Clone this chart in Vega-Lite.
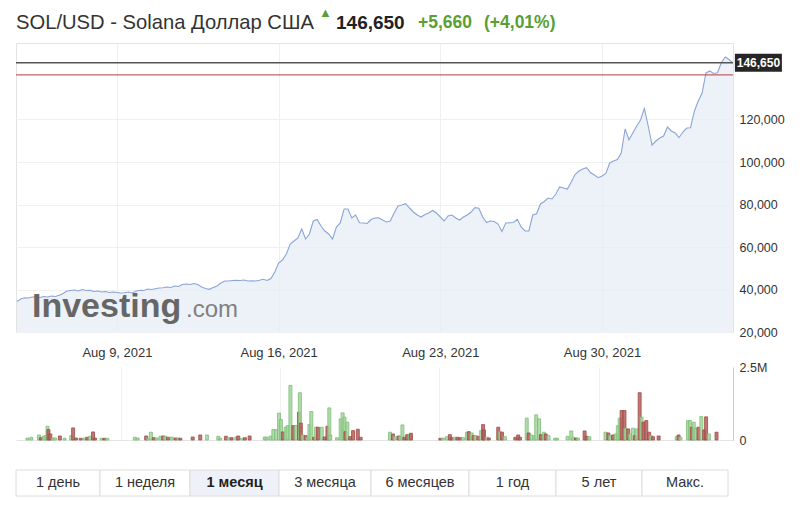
{
  "$schema": "https://vega.github.io/schema/vega-lite/v6.json",
  "padding": {"left": 14, "top": 7, "right": 0, "bottom": 0},
  "background": "white",
  "config": {
    "font": "Liberation Sans",
    "view": {"stroke": null},
    "axis": {"labelFont": "Liberation Sans", "labelFlush": false, "labelOverlap": false}
  },
  "bounds": "flush",
  "spacing": 5,
  "vconcat": [
    {
      "width": 717,
      "height": 30,
      "layer": [
        {
          "data": {"values": [{"k": 0, "text": "SOL/USD - Solana Доллар США"}]},
          "mark": {"type": "text", "align": "left", "fontSize": 20.2, "color": "#333333"},
          "encoding": {
            "x": {"field": "k", "type": "quantitative", "scale": {"domain": [0, 1, 2, 3, 4], "range": [0, 303, 320, 402, 468], "zero": false, "nice": false}, "axis": null},
            "text": {"field": "text"}
          }
        },
        {
          "data": {"values": [{"k": 1, "text": "▲"}]},
          "mark": {"type": "text", "align": "left", "fontSize": 13, "dy": -10, "color": "#5a9f35"},
          "encoding": {"x": {"field": "k", "type": "quantitative"}, "text": {"field": "text"}}
        },
        {
          "data": {"values": [{"k": 2, "text": "146,650"}]},
          "mark": {"type": "text", "align": "left", "fontSize": 19, "fontWeight": "bold", "color": "#222222"},
          "encoding": {"x": {"field": "k", "type": "quantitative"}, "text": {"field": "text"}}
        },
        {
          "data": {"values": [{"k": 3, "text": "+5,660"}, {"k": 4, "text": "(+4,01%)"}]},
          "mark": {"type": "text", "align": "left", "fontSize": 17.5, "fontWeight": "bold", "color": "#5a9f35"},
          "encoding": {"x": {"field": "k", "type": "quantitative"}, "text": {"field": "text"}}
        }
      ]
    },
    {
      "bounds": "flush",
      "spacing": 35,
      "vconcat": [
        {
          "width": 717,
          "height": 289,
          "view": {"stroke": "#e3e3e3"},
          "layer": [
            {
              "data": {"values": [
                {"t":"2021-08-04T16:00","p":34350},{"t":"2021-08-04T20:00","p":35530},
                {"t":"2021-08-05T00:00","p":36140},{"t":"2021-08-05T04:00","p":36000},{"t":"2021-08-05T08:00","p":36470},{"t":"2021-08-05T12:00","p":36610},{"t":"2021-08-05T16:00","p":36240},{"t":"2021-08-05T20:00","p":36710},
                {"t":"2021-08-06T00:00","p":36470},{"t":"2021-08-06T04:00","p":36940},{"t":"2021-08-06T08:00","p":36710},{"t":"2021-08-06T12:00","p":37270},{"t":"2021-08-06T16:00","p":38120},{"t":"2021-08-06T20:00","p":39290},
                {"t":"2021-08-07T00:00","p":39530},{"t":"2021-08-07T04:00","p":39770},{"t":"2021-08-07T08:00","p":39290},{"t":"2021-08-07T12:00","p":40000},{"t":"2021-08-07T16:00","p":39530},{"t":"2021-08-07T20:00","p":39620},
                {"t":"2021-08-08T00:00","p":39060},{"t":"2021-08-08T04:00","p":39290},{"t":"2021-08-08T08:00","p":38820},{"t":"2021-08-08T12:00","p":39060},{"t":"2021-08-08T16:00","p":38590},{"t":"2021-08-08T20:00","p":38820},
                {"t":"2021-08-09T00:00","p":38590},{"t":"2021-08-09T04:00","p":38350},{"t":"2021-08-09T08:00","p":38490},{"t":"2021-08-09T12:00","p":38820},{"t":"2021-08-09T16:00","p":38350},{"t":"2021-08-09T20:00","p":39290},
                {"t":"2021-08-10T00:00","p":39620},{"t":"2021-08-10T04:00","p":39530},{"t":"2021-08-10T08:00","p":40240},{"t":"2021-08-10T12:00","p":40000},{"t":"2021-08-10T16:00","p":40380},{"t":"2021-08-10T20:00","p":40710},
                {"t":"2021-08-11T00:00","p":40850},{"t":"2021-08-11T04:00","p":41180},{"t":"2021-08-11T08:00","p":40940},{"t":"2021-08-11T12:00","p":41650},{"t":"2021-08-11T16:00","p":41410},{"t":"2021-08-11T20:00","p":42350},
                {"t":"2021-08-12T00:00","p":42590},{"t":"2021-08-12T04:00","p":42350},{"t":"2021-08-12T08:00","p":42820},{"t":"2021-08-12T12:00","p":42350},{"t":"2021-08-12T16:00","p":41180},{"t":"2021-08-12T20:00","p":40470},
                {"t":"2021-08-13T00:00","p":40090},{"t":"2021-08-13T04:00","p":40940},{"t":"2021-08-13T08:00","p":41650},{"t":"2021-08-13T12:00","p":43060},{"t":"2021-08-13T16:00","p":44000},{"t":"2021-08-13T20:00","p":44000},
                {"t":"2021-08-14T00:00","p":44240},{"t":"2021-08-14T04:00","p":44330},{"t":"2021-08-14T08:00","p":44240},{"t":"2021-08-14T12:00","p":44470},{"t":"2021-08-14T16:00","p":44000},{"t":"2021-08-14T20:00","p":44100},
                {"t":"2021-08-15T00:00","p":44000},{"t":"2021-08-15T04:00","p":44330},{"t":"2021-08-15T08:00","p":44800},{"t":"2021-08-15T12:00","p":44240},{"t":"2021-08-15T16:00","p":45180},{"t":"2021-08-15T20:00","p":48240},
                {"t":"2021-08-16T00:00","p":52470},{"t":"2021-08-16T04:00","p":53880},{"t":"2021-08-16T08:00","p":56710},{"t":"2021-08-16T12:00","p":61410},{"t":"2021-08-16T16:00","p":62820},{"t":"2021-08-16T20:00","p":64240},
                {"t":"2021-08-17T00:00","p":68470},{"t":"2021-08-17T04:00","p":63770},{"t":"2021-08-17T08:00","p":66120},{"t":"2021-08-17T12:00","p":72240},{"t":"2021-08-17T16:00","p":72940},{"t":"2021-08-17T20:00","p":69880},
                {"t":"2021-08-18T00:00","p":67530},{"t":"2021-08-18T04:00","p":66120},{"t":"2021-08-18T08:00","p":63770},{"t":"2021-08-18T12:00","p":69410},{"t":"2021-08-18T16:00","p":71300},{"t":"2021-08-18T20:00","p":77880},
                {"t":"2021-08-19T00:00","p":77880},{"t":"2021-08-19T04:00","p":73650},{"t":"2021-08-19T08:00","p":75060},{"t":"2021-08-19T12:00","p":71440},{"t":"2021-08-19T16:00","p":71300},{"t":"2021-08-19T20:00","p":71060},
                {"t":"2021-08-20T00:00","p":72940},{"t":"2021-08-20T04:00","p":73650},{"t":"2021-08-20T08:00","p":73790},{"t":"2021-08-20T12:00","p":72710},{"t":"2021-08-20T16:00","p":71770},{"t":"2021-08-20T20:00","p":72240},
                {"t":"2021-08-21T00:00","p":76000},{"t":"2021-08-21T04:00","p":79300},{"t":"2021-08-21T08:00","p":79770},{"t":"2021-08-21T12:00","p":80380},{"t":"2021-08-21T16:00","p":78350},{"t":"2021-08-21T20:00","p":76470},
                {"t":"2021-08-22T00:00","p":75060},{"t":"2021-08-22T04:00","p":74120},{"t":"2021-08-22T08:00","p":75300},{"t":"2021-08-22T12:00","p":76000},{"t":"2021-08-22T16:00","p":77180},{"t":"2021-08-22T20:00","p":76000},
                {"t":"2021-08-23T00:00","p":74120},{"t":"2021-08-23T04:00","p":72240},{"t":"2021-08-23T08:00","p":74590},{"t":"2021-08-23T12:00","p":75060},{"t":"2021-08-23T16:00","p":73650},{"t":"2021-08-23T20:00","p":72710},
                {"t":"2021-08-24T00:00","p":74120},{"t":"2021-08-24T04:00","p":75060},{"t":"2021-08-24T08:00","p":76470},{"t":"2021-08-24T12:00","p":78500},{"t":"2021-08-24T16:00","p":78210},{"t":"2021-08-24T20:00","p":74120},
                {"t":"2021-08-25T00:00","p":71530},{"t":"2021-08-25T04:00","p":72240},{"t":"2021-08-25T08:00","p":72000},{"t":"2021-08-25T12:00","p":70820},{"t":"2021-08-25T16:00","p":67300},{"t":"2021-08-25T20:00","p":71300},
                {"t":"2021-08-26T00:00","p":71440},{"t":"2021-08-26T04:00","p":71530},{"t":"2021-08-26T08:00","p":73040},{"t":"2021-08-26T12:00","p":69410},{"t":"2021-08-26T16:00","p":67530},{"t":"2021-08-26T20:00","p":67530},
                {"t":"2021-08-27T00:00","p":75060},{"t":"2021-08-27T04:00","p":75670},{"t":"2021-08-27T08:00","p":80240},{"t":"2021-08-27T12:00","p":81410},{"t":"2021-08-27T16:00","p":83060},{"t":"2021-08-27T20:00","p":82590},
                {"t":"2021-08-28T00:00","p":84940},{"t":"2021-08-28T04:00","p":88240},{"t":"2021-08-28T08:00","p":87770},{"t":"2021-08-28T12:00","p":87300},{"t":"2021-08-28T16:00","p":90590},{"t":"2021-08-28T20:00","p":94120},
                {"t":"2021-08-29T00:00","p":95770},{"t":"2021-08-29T04:00","p":96710},{"t":"2021-08-29T08:00","p":97320},{"t":"2021-08-29T12:00","p":95060},{"t":"2021-08-29T16:00","p":93880},{"t":"2021-08-29T20:00","p":92610},
                {"t":"2021-08-30T00:00","p":93410},{"t":"2021-08-30T04:00","p":94590},{"t":"2021-08-30T08:00","p":99530},{"t":"2021-08-30T12:00","p":100470},{"t":"2021-08-30T16:00","p":101180},{"t":"2021-08-30T20:00","p":104240},
                {"t":"2021-08-31T00:00","p":115530},{"t":"2021-08-31T04:00","p":110350},{"t":"2021-08-31T08:00","p":113650},{"t":"2021-08-31T12:00","p":116940},{"t":"2021-08-31T16:00","p":119770},{"t":"2021-08-31T20:00","p":125180},
                {"t":"2021-09-01T00:00","p":116940},{"t":"2021-09-01T04:00","p":108000},{"t":"2021-09-01T08:00","p":109880},{"t":"2021-09-01T12:00","p":111300},{"t":"2021-09-01T16:00","p":112240},{"t":"2021-09-01T20:00","p":116470},
                {"t":"2021-09-02T00:00","p":114590},{"t":"2021-09-02T04:00","p":113650},{"t":"2021-09-02T08:00","p":111440},{"t":"2021-09-02T12:00","p":114120},{"t":"2021-09-02T16:00","p":116000},{"t":"2021-09-02T20:00","p":116140},
                {"t":"2021-09-03T00:00","p":124000},{"t":"2021-09-03T04:00","p":128710},{"t":"2021-09-03T08:00","p":132470},{"t":"2021-09-03T12:00","p":141890},{"t":"2021-09-03T16:00","p":142830},{"t":"2021-09-03T20:00","p":141650},
                {"t":"2021-09-04T00:00","p":142030},{"t":"2021-09-04T04:00","p":146730},{"t":"2021-09-04T08:00","p":149420},{"t":"2021-09-04T12:00","p":148240},{"t":"2021-09-04T16:00","p":146650}
              ]},
              "mark": {"type": "area", "color": "#e6ecf5", "clip": true, "line": {"color": "#8aa5d5", "strokeWidth": 1.1}},
              "encoding": {
                "x": {
                  "field": "t", "type": "temporal",
                  "scale": {"domain": [{"year": 2021, "month": 8, "date": 4, "hours": 15, "minutes": 6}, {"year": 2021, "month": 9, "date": 4, "hours": 16, "minutes": 6}]},
                  "axis": {
                    "values": [{"year": 2021, "month": 8, "date": 9}, {"year": 2021, "month": 8, "date": 16}, {"year": 2021, "month": 8, "date": 23}, {"year": 2021, "month": 8, "date": 30}],
                    "format": "%b %-d, %Y", "labelFontSize": 13, "labelColor": "#333333", "labelPadding": 14,
                    "ticks": false, "domain": false, "grid": true, "gridColor": "#f0f0f0", "title": null
                  }
                },
                "y": {
                  "field": "p", "type": "quantitative",
                  "scale": {"domain": [20000, 156000], "zero": false, "nice": false},
                  "axis": {
                    "orient": "right", "values": [20000, 40000, 60000, 80000, 100000, 120000], "format": ",d",
                    "labelFontSize": 12.5, "labelColor": "#333333", "labelPadding": 6,
                    "ticks": false, "domain": false, "grid": true, "gridColor": "#f0f0f0", "title": null
                  }
                }
              }
            },
            {
              "data": {"values": [{"text": "Investing"}]},
              "mark": {"type": "text", "align": "left", "baseline": "alphabetic", "fontSize": 34, "fontWeight": "bold", "color": "#666666", "opacity": 1},
              "encoding": {
                "x": {"datum": {"year": 2021, "month": 8, "date": 5, "hours": 7, "minutes": 40}, "type": "temporal"},
                "y": {"datum": 27060, "type": "quantitative"},
                "text": {"field": "text"}
              }
            },
            {
              "data": {"values": [{"text": ".com"}]},
              "mark": {"type": "text", "align": "left", "baseline": "alphabetic", "fontSize": 24, "color": "#808080", "opacity": 1},
              "encoding": {
                "x": {"datum": {"year": 2021, "month": 8, "date": 11, "hours": 23, "minutes": 42}, "type": "temporal"},
                "y": {"datum": 27060, "type": "quantitative"},
                "text": {"field": "text"}
              }
            },
            {
              "data": {"values": [{"value": 140990}]},
              "mark": {"type": "rule", "color": "#b83c3c", "strokeWidth": 1},
              "encoding": {"y": {"field": "value", "type": "quantitative"}}
            },
            {
              "data": {"values": [{"value": 146650}]},
              "mark": {"type": "rule", "color": "#555555", "strokeWidth": 1.5},
              "encoding": {"y": {"field": "value", "type": "quantitative"}}
            },
            {
              "data": {"values": [{"value": 146650}]},
              "mark": {"type": "point", "shape": "M-1,-0.383H1V0.383H-1Z", "size": 2209, "filled": true, "color": "#262626", "opacity": 1},
              "encoding": {
                "x": {"datum": {"year": 2021, "month": 9, "date": 5, "hours": 18, "minutes": 30}, "type": "temporal"},
                "y": {"field": "value", "type": "quantitative"}
              }
            },
            {
              "data": {"values": [{"value": 146650}]},
              "mark": {"type": "text", "align": "center", "baseline": "middle", "fontSize": 12, "fontWeight": "bold", "color": "#ffffff"},
              "encoding": {
                "x": {"datum": {"year": 2021, "month": 9, "date": 5, "hours": 18, "minutes": 30}, "type": "temporal"},
                "y": {"field": "value", "type": "quantitative"},
                "text": {"field": "value", "format": ",d"}
              }
            }
          ]
        },
        {
          "bounds": "flush",
          "spacing": 30,
          "vconcat": [
            {
              "width": 717,
              "height": 73,
              "data": {"values": [
                {"t":"2021-08-04T22:00","v":69000,"d":"up"},{"t":"2021-08-05T02:00","v":93000,"d":"up"},{"t":"2021-08-05T10:00","v":172000,"d":"up"},{"t":"2021-08-05T12:00","v":79000,"d":"down"},
                {"t":"2021-08-05T15:00","v":128000,"d":"up"},{"t":"2021-08-05T17:00","v":148000,"d":"up"},{"t":"2021-08-05T19:00","v":472000,"d":"up"},{"t":"2021-08-05T20:00","v":355000,"d":"down"},
                {"t":"2021-08-05T22:00","v":207000,"d":"down"},{"t":"2021-08-06T01:00","v":69000,"d":"up"},{"t":"2021-08-06T03:00","v":69000,"d":"up"},{"t":"2021-08-06T08:00","v":138000,"d":"down"},
                {"t":"2021-08-06T13:00","v":59000,"d":"up"},{"t":"2021-08-06T20:00","v":148000,"d":"up"},{"t":"2021-08-06T22:00","v":414000,"d":"down"},{"t":"2021-08-07T01:00","v":69000,"d":"down"},
                {"t":"2021-08-07T06:00","v":59000,"d":"down"},{"t":"2021-08-07T10:00","v":69000,"d":"up"},{"t":"2021-08-07T13:00","v":93000,"d":"down"},{"t":"2021-08-07T16:00","v":128000,"d":"up"},
                {"t":"2021-08-07T19:00","v":276000,"d":"down"},{"t":"2021-08-07T21:00","v":69000,"d":"down"},{"t":"2021-08-08T04:00","v":59000,"d":"up"},{"t":"2021-08-08T07:00","v":59000,"d":"down"},
                {"t":"2021-08-08T10:00","v":59000,"d":"up"},{"t":"2021-08-09T15:00","v":93000,"d":"up"},{"t":"2021-08-09T18:00","v":69000,"d":"up"},{"t":"2021-08-10T03:00","v":138000,"d":"down"},
                {"t":"2021-08-10T05:00","v":59000,"d":"up"},{"t":"2021-08-10T08:00","v":266000,"d":"up"},{"t":"2021-08-10T11:00","v":79000,"d":"down"},{"t":"2021-08-10T14:00","v":69000,"d":"up"},
                {"t":"2021-08-10T18:00","v":128000,"d":"up"},{"t":"2021-08-10T21:00","v":138000,"d":"down"},{"t":"2021-08-10T23:00","v":128000,"d":"up"},{"t":"2021-08-11T02:00","v":93000,"d":"down"},
                {"t":"2021-08-11T06:00","v":103000,"d":"up"},{"t":"2021-08-11T10:00","v":69000,"d":"down"},{"t":"2021-08-11T13:00","v":69000,"d":"up"},{"t":"2021-08-11T15:00","v":59000,"d":"down"},
                {"t":"2021-08-12T04:00","v":103000,"d":"down"},{"t":"2021-08-12T12:00","v":172000,"d":"down"},{"t":"2021-08-12T19:00","v":172000,"d":"up"},{"t":"2021-08-13T07:00","v":128000,"d":"up"},
                {"t":"2021-08-13T09:00","v":59000,"d":"up"},{"t":"2021-08-13T15:00","v":128000,"d":"down"},{"t":"2021-08-13T18:00","v":79000,"d":"up"},{"t":"2021-08-13T21:00","v":79000,"d":"down"},
                {"t":"2021-08-14T02:00","v":103000,"d":"up"},{"t":"2021-08-14T04:00","v":138000,"d":"down"},{"t":"2021-08-14T08:00","v":59000,"d":"up"},{"t":"2021-08-14T11:00","v":79000,"d":"down"},
                {"t":"2021-08-14T16:00","v":138000,"d":"down"},{"t":"2021-08-15T08:00","v":103000,"d":"up"},{"t":"2021-08-15T10:00","v":93000,"d":"up"},{"t":"2021-08-15T14:00","v":128000,"d":"up"},
                {"t":"2021-08-15T17:00","v":355000,"d":"up"},{"t":"2021-08-15T20:00","v":355000,"d":"up"},{"t":"2021-08-15T23:00","v":921000,"d":"up"},{"t":"2021-08-16T01:00","v":700000,"d":"up"},
                {"t":"2021-08-16T03:00","v":276000,"d":"down"},{"t":"2021-08-16T06:00","v":438000,"d":"up"},{"t":"2021-08-16T08:00","v":493000,"d":"up"},{"t":"2021-08-16T11:00","v":1870000,"d":"up"},
                {"t":"2021-08-16T14:00","v":493000,"d":"down"},{"t":"2021-08-16T17:00","v":493000,"d":"up"},{"t":"2021-08-16T20:00","v":955000,"d":"down"},{"t":"2021-08-16T21:00","v":1620000,"d":"up"},
                {"t":"2021-08-16T22:00","v":576000,"d":"down"},{"t":"2021-08-17T00:00","v":172000,"d":"up"},{"t":"2021-08-17T03:00","v":148000,"d":"down"},{"t":"2021-08-17T05:00","v":93000,"d":"up"},
                {"t":"2021-08-17T07:00","v":528000,"d":"up"},{"t":"2021-08-17T09:00","v":976000,"d":"up"},{"t":"2021-08-17T12:00","v":93000,"d":"down"},{"t":"2021-08-17T14:00","v":438000,"d":"up"},
                {"t":"2021-08-17T16:00","v":438000,"d":"down"},{"t":"2021-08-17T20:00","v":438000,"d":"up"},{"t":"2021-08-17T23:00","v":103000,"d":"down"},{"t":"2021-08-18T02:00","v":472000,"d":"down"},
                {"t":"2021-08-18T04:00","v":1100000,"d":"up"},{"t":"2021-08-18T05:00","v":172000,"d":"up"},{"t":"2021-08-18T12:00","v":79000,"d":"up"},{"t":"2021-08-18T16:00","v":724000,"d":"up"},
                {"t":"2021-08-18T18:00","v":931000,"d":"up"},{"t":"2021-08-18T20:00","v":783000,"d":"up"},{"t":"2021-08-18T21:00","v":286000,"d":"down"},{"t":"2021-08-18T23:00","v":610000,"d":"up"},
                {"t":"2021-08-19T02:00","v":114000,"d":"down"},{"t":"2021-08-19T05:00","v":321000,"d":"down"},{"t":"2021-08-19T10:00","v":369000,"d":"down"},{"t":"2021-08-19T13:00","v":93000,"d":"down"},
                {"t":"2021-08-20T20:00","v":266000,"d":"up"},{"t":"2021-08-20T23:00","v":207000,"d":"down"},{"t":"2021-08-21T01:00","v":114000,"d":"up"},{"t":"2021-08-21T05:00","v":138000,"d":"down"},
                {"t":"2021-08-21T07:00","v":128000,"d":"up"},{"t":"2021-08-21T09:00","v":517000,"d":"up"},{"t":"2021-08-21T11:00","v":93000,"d":"down"},{"t":"2021-08-21T14:00","v":183000,"d":"down"},
                {"t":"2021-08-21T17:00","v":197000,"d":"up"},{"t":"2021-08-21T18:00","v":231000,"d":"down"},{"t":"2021-08-23T01:00","v":59000,"d":"down"},{"t":"2021-08-23T04:00","v":69000,"d":"up"},
                {"t":"2021-08-23T08:00","v":114000,"d":"up"},{"t":"2021-08-23T11:00","v":183000,"d":"down"},{"t":"2021-08-23T13:00","v":79000,"d":"down"},{"t":"2021-08-23T16:00","v":93000,"d":"up"},
                {"t":"2021-08-23T19:00","v":93000,"d":"down"},{"t":"2021-08-23T22:00","v":79000,"d":"down"},{"t":"2021-08-24T01:00","v":79000,"d":"up"},{"t":"2021-08-24T05:00","v":266000,"d":"up"},
                {"t":"2021-08-24T07:00","v":286000,"d":"down"},{"t":"2021-08-24T10:00","v":241000,"d":"up"},{"t":"2021-08-24T12:00","v":148000,"d":"down"},{"t":"2021-08-24T14:00","v":148000,"d":"up"},
                {"t":"2021-08-24T17:00","v":128000,"d":"down"},{"t":"2021-08-24T20:00","v":321000,"d":"up"},{"t":"2021-08-24T22:00","v":528000,"d":"down"},{"t":"2021-08-24T23:00","v":345000,"d":"down"},
                {"t":"2021-08-25T02:00","v":93000,"d":"up"},{"t":"2021-08-25T04:00","v":69000,"d":"down"},{"t":"2021-08-25T14:00","v":438000,"d":"down"},{"t":"2021-08-25T16:00","v":286000,"d":"up"},
                {"t":"2021-08-25T18:00","v":266000,"d":"down"},{"t":"2021-08-25T21:00","v":114000,"d":"up"},{"t":"2021-08-26T08:00","v":93000,"d":"down"},{"t":"2021-08-26T11:00","v":172000,"d":"down"},
                {"t":"2021-08-26T13:00","v":93000,"d":"down"},{"t":"2021-08-26T20:00","v":748000,"d":"up"},{"t":"2021-08-26T22:00","v":241000,"d":"down"},{"t":"2021-08-27T01:00","v":172000,"d":"up"},
                {"t":"2021-08-27T04:00","v":148000,"d":"up"},{"t":"2021-08-27T06:00","v":862000,"d":"up"},{"t":"2021-08-27T09:00","v":724000,"d":"up"},{"t":"2021-08-27T11:00","v":183000,"d":"down"},
                {"t":"2021-08-27T14:00","v":266000,"d":"up"},{"t":"2021-08-27T16:00","v":207000,"d":"down"},{"t":"2021-08-27T19:00","v":148000,"d":"up"},{"t":"2021-08-28T02:00","v":59000,"d":"up"},
                {"t":"2021-08-28T04:00","v":59000,"d":"up"},{"t":"2021-08-28T15:00","v":128000,"d":"up"},{"t":"2021-08-28T19:00","v":310000,"d":"up"},{"t":"2021-08-28T21:00","v":93000,"d":"up"},
                {"t":"2021-08-29T00:00","v":69000,"d":"down"},{"t":"2021-08-29T02:00","v":59000,"d":"up"},{"t":"2021-08-29T09:00","v":310000,"d":"down"},{"t":"2021-08-29T11:00","v":128000,"d":"down"},
                {"t":"2021-08-29T14:00","v":114000,"d":"up"},{"t":"2021-08-30T07:00","v":266000,"d":"up"},{"t":"2021-08-30T10:00","v":241000,"d":"down"},{"t":"2021-08-30T12:00","v":148000,"d":"up"},
                {"t":"2021-08-30T15:00","v":172000,"d":"down"},{"t":"2021-08-30T18:00","v":207000,"d":"up"},{"t":"2021-08-30T20:00","v":493000,"d":"up"},{"t":"2021-08-30T22:00","v":748000,"d":"up"},
                {"t":"2021-08-31T00:00","v":1010000,"d":"down"},{"t":"2021-08-31T03:00","v":1010000,"d":"down"},{"t":"2021-08-31T04:00","v":403000,"d":"up"},{"t":"2021-08-31T07:00","v":379000,"d":"down"},
                {"t":"2021-08-31T09:00","v":207000,"d":"up"},{"t":"2021-08-31T12:00","v":403000,"d":"up"},{"t":"2021-08-31T14:00","v":148000,"d":"down"},{"t":"2021-08-31T16:00","v":379000,"d":"up"},
                {"t":"2021-08-31T19:00","v":1620000,"d":"down"},{"t":"2021-08-31T21:00","v":783000,"d":"up"},{"t":"2021-08-31T23:00","v":610000,"d":"down"},{"t":"2021-09-01T02:00","v":666000,"d":"down"},
                {"t":"2021-09-01T05:00","v":266000,"d":"down"},{"t":"2021-09-01T07:00","v":148000,"d":"up"},{"t":"2021-09-01T09:00","v":114000,"d":"down"},{"t":"2021-09-01T15:00","v":138000,"d":"down"},
                {"t":"2021-09-02T10:00","v":114000,"d":"up"},{"t":"2021-09-02T12:00","v":172000,"d":"down"},{"t":"2021-09-02T14:00","v":93000,"d":"up"},{"t":"2021-09-02T22:00","v":666000,"d":"up"},
                {"t":"2021-09-03T00:00","v":666000,"d":"up"},{"t":"2021-09-03T02:00","v":438000,"d":"down"},{"t":"2021-09-03T04:00","v":610000,"d":"up"},{"t":"2021-09-03T06:00","v":403000,"d":"up"},
                {"t":"2021-09-03T09:00","v":438000,"d":"down"},{"t":"2021-09-03T12:00","v":803000,"d":"up"},{"t":"2021-09-03T15:00","v":345000,"d":"down"},{"t":"2021-09-03T17:00","v":793000,"d":"down"},
                {"t":"2021-09-03T20:00","v":207000,"d":"up"},{"t":"2021-09-04T04:00","v":266000,"d":"down"}
              ]},
              "mark": {"type": "bar", "size": 3, "strokeWidth": 0.8, "fillOpacity": 0.85},
              "encoding": {
                "x": {
                  "field": "t", "type": "temporal",
                  "scale": {"domain": [{"year": 2021, "month": 8, "date": 4, "hours": 15, "minutes": 6}, {"year": 2021, "month": 9, "date": 4, "hours": 16, "minutes": 6}]},
                  "axis": {
                    "values": [{"year": 2021, "month": 8, "date": 9}, {"year": 2021, "month": 8, "date": 16}, {"year": 2021, "month": 8, "date": 23}, {"year": 2021, "month": 8, "date": 30}],
                    "labels": false, "ticks": false, "domain": true, "domainColor": "#e3e3e3", "grid": true, "gridColor": "#f0f0f0", "title": null
                  }
                },
                "y": {
                  "field": "v", "type": "quantitative",
                  "scale": {"domain": [0, 2500000], "nice": false},
                  "axis": {
                    "orient": "right", "values": [0, 2500000],
                    "labelExpr": "datum.value == 0 ? '0' : format(datum.value / 1000000, '.1f') + 'M'",
                    "labelFontSize": 12.5, "labelColor": "#333333", "labelPadding": 6,
                    "ticks": false, "domain": true, "domainColor": "#cccccc", "grid": false, "title": null
                  }
                },
                "fill": {"field": "d", "type": "nominal", "scale": {"domain": ["up", "down"], "range": ["#a6d49f", "#b35f5c"]}, "legend": null},
                "stroke": {"field": "d", "type": "nominal", "scale": {"domain": ["up", "down"], "range": ["#7cbf76", "#a14b48"]}, "legend": null}
              }
            },
            {
              "width": 717,
              "height": 26,
              "data": {"values": [
                {"label": "1 день", "i": 0, "j": 1, "m": 0.5},
                {"label": "1 неделя", "i": 1, "j": 2, "m": 1.5},
                {"label": "1 месяц", "i": 2, "j": 3, "m": 2.5},
                {"label": "3 месяца", "i": 3, "j": 4, "m": 3.5},
                {"label": "6 месяцев", "i": 4, "j": 5, "m": 4.5},
                {"label": "1 год", "i": 5, "j": 6, "m": 5.5},
                {"label": "5 лет", "i": 6, "j": 7, "m": 6.5},
                {"label": "Макс.", "i": 7, "j": 8, "m": 7.5}
              ]},
              "layer": [
                {
                  "mark": {"type": "rect", "stroke": "#dcdcdc", "strokeWidth": 1},
                  "encoding": {
                    "x": {"field": "i", "type": "quantitative", "scale": {"domain": [0, 1, 2, 3, 4, 5, 6, 7, 8], "range": [0, 84, 174, 263, 355, 453, 540, 626, 712], "zero": false, "nice": false}, "axis": null},
                    "x2": {"field": "j"},
                    "fill": {"condition": {"test": "datum.label === '1 месяц'", "value": "#eef2f8"}, "value": "#ffffff"}
                  }
                },
                {
                  "transform": [{"filter": "datum.label !== '1 месяц'"}],
                  "mark": {"type": "text", "fontSize": 14.5, "color": "#333333"},
                  "encoding": {"x": {"field": "m", "type": "quantitative"}, "text": {"field": "label"}}
                },
                {
                  "transform": [{"filter": "datum.label === '1 месяц'"}],
                  "mark": {"type": "text", "fontSize": 14.5, "fontWeight": "bold", "color": "#222222"},
                  "encoding": {"x": {"field": "m", "type": "quantitative"}, "text": {"field": "label"}}
                }
              ]
            }
          ]
        }
      ]
    }
  ]
}
